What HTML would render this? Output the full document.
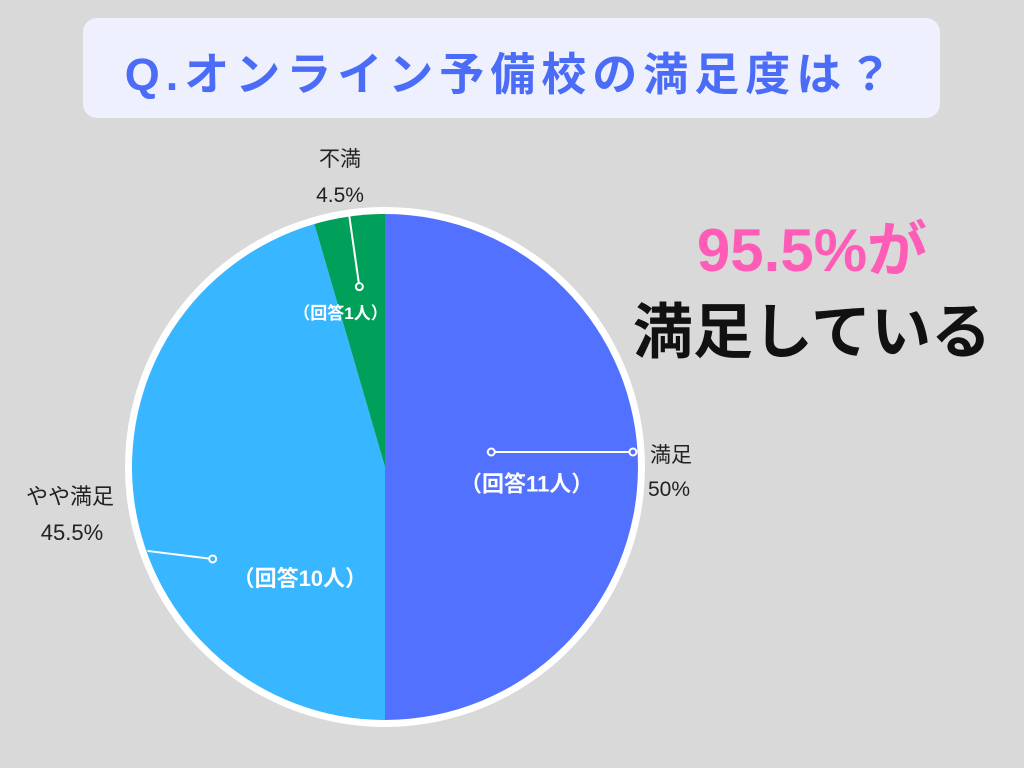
<!DOCTYPE html>
<html><head><meta charset="utf-8">
<style>
body{margin:0;width:1024px;height:768px;background:#d9d9d9;overflow:hidden;font-family:"Liberation Sans","Noto Sans CJK JP",sans-serif;}
#title{position:absolute;left:83px;top:18px;width:857px;height:100px;background:#eef0fd;border-radius:14px;}
#title span{position:absolute;left:0;right:0;top:20px;text-align:center;font-size:45px;font-weight:bold;color:#4a6cf7;letter-spacing:6px;}
.big{position:absolute;font-weight:bold;text-align:center;width:440px;left:592px;}
</style></head><body>
<div id="title"><span>Q.オンライン予備校の満足度は？</span></div>
<div class="big" style="top:202px;font-size:60px;color:#ff5cb8;">95.5%が</div>
<div class="big" style="top:284px;font-size:60px;color:#111;">満足している</div>
<svg id="pie" width="1024" height="768" style="position:absolute;left:0;top:0"></svg>
<script>
const categories=["満足","やや満足","不満"];
const values=[50,45.5,4.5];
const counts=["（回答11人）","（回答10人）","（回答1人）"];
const pctLabels=["50%","45.5%","4.5%"];
const colors=["#5271ff","#38b6ff","#00a05a"];
const NS="http://www.w3.org/2000/svg";
const svg=document.getElementById('pie');
const cx=385,cy=467,R=253;
function mk(t,a){const e=document.createElementNS(NS,t);for(const k in a)e.setAttribute(k,a[k]);svg.appendChild(e);return e;}
const ring=mk('circle',{cx:cx,cy:cy,r:R+7,fill:'#fff'});


const total=values.reduce((a,b)=>a+b,0);
function pt(ang,r){return [cx+r*Math.sin(ang),cy-r*Math.cos(ang)];}
let a0=0;
const labelCfg=[
 {inR:0.56,inSize:22,ldx:0,ldy:17,lineIn:0.42,lineOut:0.98,i1:[0,-15],o1:[0,-15],txt:[650,462],pct:[648,496],anchor:'start',fs:21},
 {inR:0.38,inSize:22,ldx:10,ldy:98,lineIn:0.7,lineOut:0.98,i1:[3,67],o1:[8,49],txt:[70,504],pct:[72,540],anchor:'middle',fs:22},
 {inR:0.63,inSize:17,ldx:-22,ldy:4,lineIn:0.72,lineOut:1.0,i1:[0,0],o1:[0,0],txt:[340,166],pct:[340,202],anchor:'middle',fs:21}
];
values.forEach((v,i)=>{
 const a1=a0+v/total*2*Math.PI;
 const p0=pt(a0,R),p1=pt(a1,R);
 const large=(a1-a0)>Math.PI?1:0;
 const s=mk('path',{d:`M${cx},${cy}L${p0[0]},${p0[1]}A${R},${R} 0 ${large} 1 ${p1[0]},${p1[1]}Z`,fill:colors[i]});
 
 
 const mid=(a0+a1)/2,c=labelCfg[i];
 const ip=pt(mid,R*c.inR);
 const it=mk('text',{x:ip[0]+c.ldx,y:ip[1]+c.inSize*0.35+c.ldy,'text-anchor':'middle','font-size':c.inSize,'font-weight':'bold',fill:'#fff'});
 it.textContent=counts[i];
 
 
 let l1=pt(mid,R*c.lineIn),l2=pt(mid,R*c.lineOut);
 l1=[l1[0]+c.i1[0],l1[1]+c.i1[1]];l2=[l2[0]+c.o1[0],l2[1]+c.o1[1]];
 const ln=mk('line',{x1:l1[0],y1:l1[1],x2:l2[0],y2:l2[1],stroke:'#fff','stroke-width':2});
 
 
 [l1].concat(i==0?[l2]:[]).forEach(p=>{const d=mk('circle',{cx:p[0],cy:p[1],r:3.5,fill:colors[i],stroke:'#fff','stroke-width':2});
  
  });
 const t=mk('text',{x:c.txt[0],y:c.txt[1],'text-anchor':c.anchor,'font-size':c.fs,fill:'#222'});
 t.textContent=categories[i];
 
 
 const p=mk('text',{x:c.pct[0],y:c.pct[1],'text-anchor':c.anchor,'font-size':c.fs,fill:'#222'});
 p.textContent=pctLabels[i];
 
 
 a0=a1;
});
</script>
</body></html>
